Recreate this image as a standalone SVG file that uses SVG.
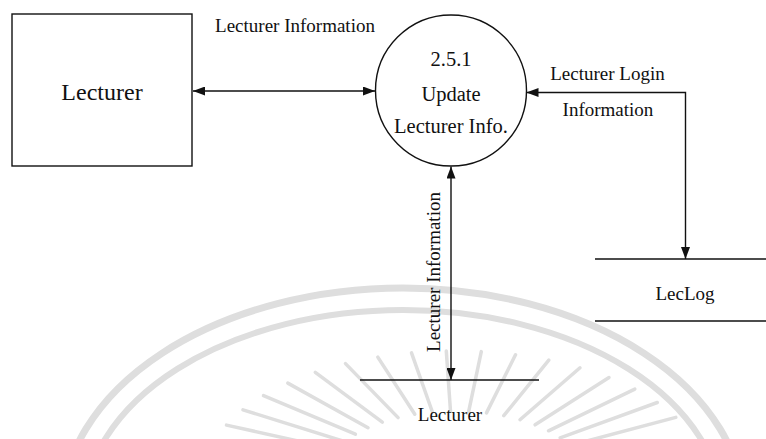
<svg xmlns="http://www.w3.org/2000/svg" width="766" height="439" viewBox="0 0 766 439">
  <style>
    .ln { fill: none; stroke: #111; stroke-width: 1.4; }
    .t { font-family: "Liberation Serif", "Times New Roman", serif; fill: #111; text-anchor: middle; font-size: 19px; }
    .big { font-size: 24px; }
    .pc { font-size: 20.5px; }
    .wm { fill: none; stroke: #dedede; stroke-linecap: round; }
  </style>
  <defs>
    <marker id="ah" markerUnits="userSpaceOnUse" markerWidth="12" markerHeight="9" refX="12" refY="4.5" orient="auto-start-reverse">
      <path d="M0,0 L12,4.5 L0,9 z" fill="#111"/>
    </marker>
  </defs>
  <rect width="766" height="439" fill="#fff"/>

  <g id="watermark">
    <ellipse class="wm" cx="403" cy="511" rx="341" ry="223" stroke-width="7"/>
    <ellipse class="wm" cx="403" cy="511" rx="319" ry="201" stroke-width="6"/>
    <g stroke-width="3.5" class="wm">
      <line x1="226.5" y1="425.1" x2="336.2" y2="449.5"/>
      <line x1="243" y1="409.8" x2="344.8" y2="441.6"/>
      <line x1="263.5" y1="395.6" x2="355.4" y2="434.2"/>
      <line x1="287.8" y1="383.1" x2="368" y2="427.7"/>
      <line x1="315.3" y1="372.4" x2="382.3" y2="422.1"/>
      <line x1="345.5" y1="363.6" x2="398.1" y2="417.6"/>
      <line x1="377.8" y1="357.1" x2="414.8" y2="414.2"/>
      <line x1="411.5" y1="352.9" x2="432.4" y2="412"/>
      <line x1="446.3" y1="351.1" x2="450.5" y2="411.1"/>
      <line x1="481.3" y1="351.6" x2="468.7" y2="411.3"/>
      <line x1="515.5" y1="354.8" x2="486.5" y2="412.9"/>
      <line x1="548.8" y1="360.1" x2="503.8" y2="415.7"/>
      <line x1="580" y1="367.8" x2="520" y2="419.7"/>
      <line x1="609" y1="377.5" x2="535.1" y2="424.8"/>
      <line x1="634.8" y1="389.1" x2="548.5" y2="430.8"/>
      <line x1="657.3" y1="402.5" x2="560.2" y2="437.8"/>
      <line x1="675.8" y1="417.4" x2="569.8" y2="445.5"/>
    </g>
  </g>

  <g id="lecturer-entity">
    <rect class="ln" x="12" y="14" width="180" height="152"/>
    <text class="t big" x="102" y="100">Lecturer</text>
  </g>

  <g id="process-2-5-1">
    <circle class="ln" cx="451" cy="90.5" r="75.5"/>
    <text class="t pc" x="451" y="66">2.5.1</text>
    <text class="t pc" x="451" y="101">Update</text>
    <text class="t pc" x="451" y="133">Lecturer Info.</text>
  </g>

  <g id="store-leclog">
    <line class="ln" x1="595" y1="259" x2="766" y2="259"/>
    <line class="ln" x1="595" y1="321" x2="766" y2="321"/>
    <text class="t" x="685" y="300">LecLog</text>
  </g>

  <g id="store-lecturer">
    <line class="ln" x1="360" y1="380" x2="539" y2="380"/>
    <text class="t" x="450" y="421">Lecturer</text>
  </g>

  <g id="connectors">
    <line class="ln" x1="193" y1="91" x2="375" y2="91" marker-start="url(#ah)" marker-end="url(#ah)"/>
    <path class="ln" d="M526.5,92.5 H685.5 V259" marker-start="url(#ah)" marker-end="url(#ah)"/>
    <line class="ln" x1="451" y1="166.5" x2="451" y2="380" marker-start="url(#ah)" marker-end="url(#ah)"/>
    <text class="t" x="295" y="32">Lecturer Information</text>
    <text class="t" x="607.5" y="80">Lecturer Login</text>
    <text class="t" x="608" y="116">Information</text>
    <text class="t" transform="translate(440,272) rotate(-90)">Lecturer Information</text>
  </g>
</svg>
